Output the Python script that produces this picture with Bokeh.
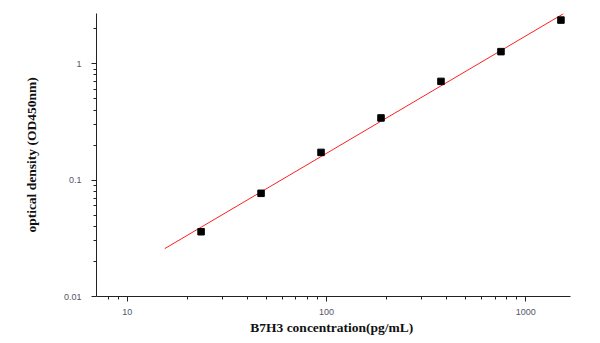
import numpy as np
from bokeh.plotting import figure
from bokeh.models import Range1d, FixedTicker, CustomJSTickFormatter
from bokeh.embed import file_html
from bokeh.resources import INLINE

# Data
concentration = [23.44, 46.88, 93.75, 187.5, 375, 750, 1500]
optical_density = [0.036, 0.077, 0.173, 0.342, 0.705, 1.27, 2.37]
fit_x_range = [15.4, 1545]
x_ticks = [10, 100, 1000]
y_ticks = [0.01, 0.1, 1]

p = figure(width=600, height=343, x_axis_type="log", y_axis_type="log",
           x_range=Range1d(7.0, 1675), y_range=Range1d(0.01, 2.7),
           output_backend="svg", toolbar_location=None,
           min_border_left=96, min_border_right=30, min_border_top=13, min_border_bottom=47)
p.outline_line_color = None
p.grid.grid_line_color = None
p.background_fill_color = "white"
p.border_fill_color = "white"

# log-log linear fit from the data
lx = np.log10(concentration)
ly = np.log10(optical_density)
slope, intercept = np.polyfit(lx, ly, 1)
fx = np.array(fit_x_range)
fy = 10 ** (intercept + slope * np.log10(fx))
p.line(fx, fy, line_color="#ff2020", line_width=1)

p.scatter(concentration, optical_density, marker="square", size=6.5,
          fill_color="black", line_color="black")

for ax in (p.xaxis[0], p.yaxis[0]):
    ax.axis_line_color = "#222222"
    ax.axis_line_width = 1
    ax.major_tick_line_color = "#222222"
    ax.minor_tick_line_color = "#222222"
    ax.major_tick_out = 5
    ax.major_tick_in = 0
    ax.minor_tick_out = 3
    ax.minor_tick_in = 0
    ax.major_label_text_font = "Liberation Sans"
    ax.major_label_text_font_size = "9px"
    ax.major_label_text_color = "#555566"
    ax.axis_label_text_font = "Liberation Serif"
    ax.axis_label_text_font_style = "bold"
    ax.axis_label_text_font_size = "13.5px"
    ax.axis_label_text_color = "#111111"

p.xaxis[0].ticker = FixedTicker(ticks=x_ticks, minor_ticks=[8, 9] + [i * 10 for i in range(2, 10)] + [i * 100 for i in range(2, 10)])
p.yaxis[0].ticker = FixedTicker(ticks=y_ticks, minor_ticks=[i * 0.01 for i in range(2, 10)] + [i * 0.1 for i in range(2, 10)] + [2])
fmt = CustomJSTickFormatter(code="return String(tick);")
p.xaxis[0].formatter = fmt
p.yaxis[0].formatter = fmt
p.xaxis[0].axis_label = "B7H3  concentration(pg/mL)"
p.yaxis[0].axis_label = "optical density (OD450nm)"
p.xaxis[0].major_label_standoff = 7
p.yaxis[0].major_label_standoff = 10
p.xaxis[0].axis_label_standoff = 2
p.yaxis[0].axis_label_standoff = 22

open("out.html", "w").write(file_html(p, INLINE))
